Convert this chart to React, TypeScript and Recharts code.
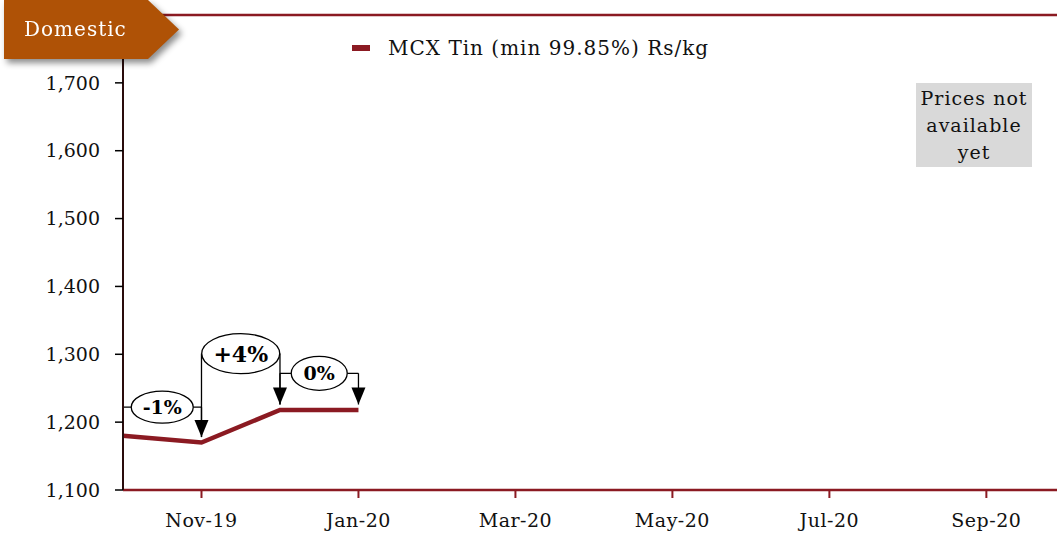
import React from "react";
import {
  LineChart,
  Line,
  XAxis,
  YAxis,
  ReferenceLine,
  ReferenceDot,
  Legend,
} from "recharts";

// months on the x axis, Oct-19 .. Sep-20
const months = [
  "Oct-19", "Nov-19", "Dec-19", "Jan-20", "Feb-20", "Mar-20",
  "Apr-20", "May-20", "Jun-20", "Jul-20", "Aug-20", "Sep-20",
];
// MCX Tin (min 99.85%) Rs/kg, only first four months available
const tinPrices: (number | null)[] = [1180, 1170, 1218, 1218, null, null, null, null, null, null, null, null];
const xTicks = [1, 3, 5, 7, 9, 11];
const yTicks = [1100, 1200, 1300, 1400, 1500, 1600, 1700];

// month-on-month change callouts
const changeLabels = ["-1%", "+4%", "0%"];
const changeLevels = [1222, 1301, 1272];

const RED = "#8B1A22";
const FONT = "'DejaVu Serif', Georgia, serif";

const bubbleSize = [
  { rx: 31, ry: 16, fs: 19 },
  { rx: 39, ry: 20, fs: 22 },
  { rx: 28, ry: 17, fs: 19 },
];

const data = months.map((m, i) => ({ idx: i, month: m, tin: tinPrices[i] }));

function fmt(n: number) {
  return n.toLocaleString("en-US");
}

function LegendContent() {
  return (
    <div style={{ display: "flex", alignItems: "center", fontFamily: FONT, fontSize: 20, letterSpacing: 1, color: "#111", whiteSpace: "nowrap" }}>
      <span style={{ display: "inline-block", width: 18, height: 6, background: RED, marginRight: 18 }} />
      <span>MCX Tin (min 99.85%) Rs/kg</span>
    </div>
  );
}

function arrowHead(props: any) {
  const { cx, cy } = props;
  return <polygon points={`${cx - 7},${cy - 17} ${cx + 7},${cy - 17} ${cx},${cy}`} fill="#000" />;
}

function bubble(i: number) {
  return (props: any) => {
    const { cx, cy } = props;
    const s = bubbleSize[i];
    return (
      <g>
        <ellipse cx={cx} cy={cy} rx={s.rx} ry={s.ry} fill="#fff" stroke="#000" strokeWidth={1.3} />
        <text
          x={cx}
          y={cy}
          textAnchor="middle"
          dominantBaseline="central"
          fontFamily={FONT}
          fontWeight="bold"
          fontSize={s.fs}
          fill="#000"
        >
          {changeLabels[i]}
        </text>
      </g>
    );
  };
}

export default function App() {
  return (
    <div style={{ position: "absolute", left: 0, top: 0, width: 1057, height: 535, background: "#fff" }}>
      <LineChart width={1057} height={535} data={data} margin={{ top: 15, right: 0, bottom: 0, left: 0 }}>
        <XAxis
          dataKey="idx"
          type="number"
          domain={[0, 11.9]}
          ticks={xTicks}
          tickFormatter={(v: number) => months[v]}
          height={45}
          axisLine={{ stroke: RED, strokeWidth: 2.5 }}
          tickLine={{ stroke: RED, strokeWidth: 2 }}
          tickSize={8}
          tickMargin={16}
          tick={{ fontFamily: FONT, fontSize: 19, fill: "#111", letterSpacing: 0.5 }}
        />
        <YAxis
          type="number"
          domain={[1100, 1800]}
          ticks={yTicks}
          tickFormatter={fmt}
          width={123}
          axisLine={{ stroke: "#2a0c0c", strokeWidth: 2 }}
          tickLine={{ stroke: "#000", strokeWidth: 1.5 }}
          tickSize={8}
          tickMargin={15}
          tick={{ fontFamily: FONT, fontSize: 19, fill: "#111" }}
        />
        <ReferenceLine y={1800} stroke={RED} strokeWidth={2.5} />
        <Legend
          layout="horizontal"
          verticalAlign="middle"
          align="center"
          content={<LegendContent />}
          wrapperStyle={{ top: 36, left: 352, width: "auto" }}
        />
        <Line
          type="linear"
          dataKey="tin"
          name="MCX Tin (min 99.85%) Rs/kg"
          stroke={RED}
          strokeWidth={4.5}
          dot={false}
          activeDot={false}
          connectNulls={false}
          isAnimationActive={false}
        />
        {changeLabels.map((_, i) => (
          <ReferenceLine
            key={`h${i}`}
            segment={[{ x: i, y: changeLevels[i] }, { x: i + 1, y: changeLevels[i] }]}
            stroke="#000"
            strokeWidth={1.3}
          />
        ))}
        {changeLabels.map((_, i) => (
          <ReferenceLine
            key={`v${i}`}
            segment={[{ x: i + 1, y: changeLevels[i] }, { x: i + 1, y: (tinPrices[i + 1] as number) + 8 }]}
            stroke="#000"
            strokeWidth={1.3}
          />
        ))}
        {changeLabels.map((_, i) =>
          i === 0 ? null : (
            <ReferenceLine
              key={`l${i}`}
              segment={[{ x: i, y: changeLevels[i] }, { x: i, y: (tinPrices[i] as number) + 8 }]}
              stroke="#000"
              strokeWidth={1.3}
            />
          )
        )}
        {changeLabels.map((_, i) => (
          <ReferenceDot
            key={`a${i}`}
            x={i + 1}
            y={(tinPrices[i + 1] as number) + 8}
            r={1}
            shape={arrowHead}
          />
        ))}
        {changeLabels.map((_, i) => (
          <ReferenceDot
            key={`b${i}`}
            x={i + 0.5}
            y={changeLevels[i]}
            r={1}
            shape={bubble(i)}
          />
        ))}
      </LineChart>

      <div style={{ position: "absolute", left: 4, top: 0, filter: "drop-shadow(3px 4px 3px rgba(0,0,0,0.45))" }}>
        <div
          style={{
            width: 175,
            height: 59,
            background: "#AF5206",
            clipPath: "polygon(0 0, 144px 0, 175px 50%, 144px 100%, 0 100%)",
            color: "#fff",
            fontFamily: FONT,
            fontSize: 20,
            lineHeight: "59px",
            paddingLeft: 20,
            boxSizing: "border-box",
            letterSpacing: 1,
          }}
        >
          Domestic
        </div>
      </div>

      <div
        style={{
          position: "absolute",
          left: 916,
          top: 83,
          width: 116,
          height: 84,
          background: "#D9D9D9",
          fontFamily: FONT,
          fontSize: 19,
          lineHeight: "27px",
          letterSpacing: 1,
          textAlign: "center",
          color: "#111",
          paddingTop: 2,
          boxSizing: "border-box",
          whiteSpace: "nowrap",
        }}
      >
        Prices not
        <br />
        available
        <br />
        yet
      </div>
    </div>
  );
}
